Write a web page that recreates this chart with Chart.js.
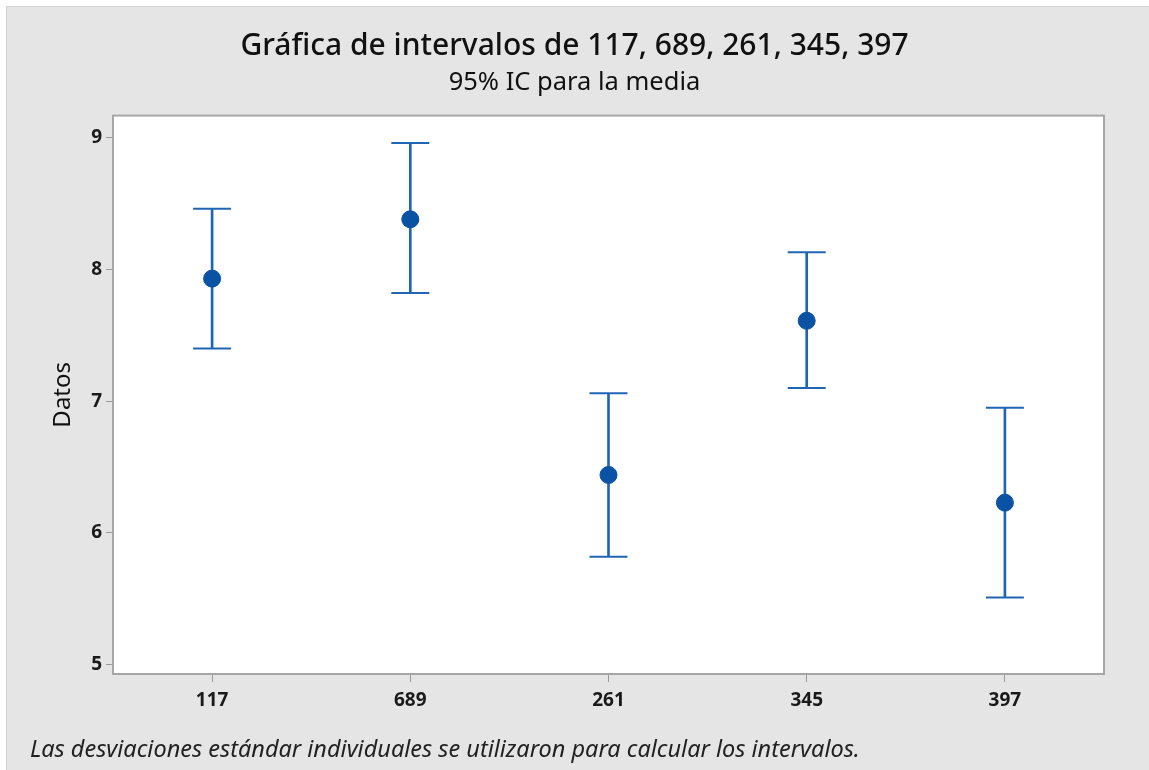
<!DOCTYPE html>
<html>
<head>
<meta charset="utf-8">
<script src="https://cdn.jsdelivr.net/npm/chart.js@4.4.1/dist/chart.umd.min.js"></script>
<style>
    body { margin: 0; background: #ffffff; }
    #panel {
        position: absolute; left: 6px; top: 6px; width: 1143px; height: 764px;
        background: #e5e5e5; border-left: 1px solid #d2d2d2; border-top: 1px solid #d2d2d2;
    }
    #wrap { position: absolute; left: 0; top: 0; width: 1149px; height: 770px; }
    #note {
        position: absolute; left: 30px; top: 737px; line-height: 1;
        font-family: "Noto Sans", sans-serif; font-style: italic; font-size: 23.5px; color: #222;
    }
</style>
</head>
<body>
<div id="panel"></div>
<div id="wrap"><canvas id="canvas" width="1149" height="770"></canvas></div>
<div id="note">Las desviaciones estándar individuales se utilizaron para calcular los intervalos.</div>
<script>
// data
var categories = ["117", "689", "261", "345", "397"];
var means = [7.93, 8.38, 6.44, 7.61, 6.23];
var lowerCI = [7.40, 7.82, 5.82, 7.10, 5.51];
var upperCI = [8.46, 8.96, 7.06, 8.13, 6.95];
var yTicks = [5, 6, 7, 8, 9];

var lineColor = "#2065b4";
var markColor = "#0a52a3";
var fontFamily = "'Noto Sans', sans-serif";
var tickFont = { family: "'Liberation Sans Narrow', 'Noto Sans', sans-serif", size: 19, weight: "bold" };

// white plot area with a grey frame
var framePlugin = {
    id: "frame",
    beforeDraw: function (chart) {
        var a = chart.chartArea, ctx = chart.ctx;
        ctx.save();
        ctx.fillStyle = "#ffffff";
        ctx.fillRect(a.left, a.top, a.right - a.left, a.bottom - a.top);
        ctx.restore();
    },
    beforeDatasetsDraw: function (chart) {
        var a = chart.chartArea, ctx = chart.ctx;
        ctx.save();
        ctx.strokeStyle = "#a6a6a6";
        ctx.lineWidth = 2;
        ctx.strokeRect(a.left, a.top, a.right - a.left, a.bottom - a.top);
        ctx.restore();
    }
};

var ranges = [];
for (var i = 0; i < categories.length; i++) {
    ranges.push([lowerCI[i], upperCI[i]]);
}

var ctx = document.getElementById("canvas").getContext("2d");
var myChart = new Chart(ctx, {
    type: "bar",
    data: {
        labels: categories,
        datasets: [{
            type: "line",
            label: "media",
            data: means,
            showLine: false,
            pointStyle: "circle",
            pointRadius: 8.5,
            pointBackgroundColor: markColor,
            pointBorderColor: markColor,
            pointBorderWidth: 1,
            order: 0
        }, {
            type: "line",
            label: "superior",
            data: upperCI,
            showLine: false,
            pointStyle: "line",
            pointRadius: 19,
            pointBorderColor: lineColor,
            pointBorderWidth: 2,
            order: 1
        }, {
            type: "line",
            label: "inferior",
            data: lowerCI,
            showLine: false,
            pointStyle: "line",
            pointRadius: 19,
            pointBorderColor: lineColor,
            pointBorderWidth: 2,
            order: 1
        }, {
            label: "IC",
            data: ranges,
            backgroundColor: lineColor,
            barThickness: 2,
            order: 2
        }]
    },
    options: {
        responsive: false,
        animation: false,
        layout: { padding: { left: 0, right: 0, top: 0, bottom: 46 } },
        plugins: {
            legend: { display: false },
            tooltip: { enabled: false },
            title: {
                display: true,
                text: "Gráfica de intervalos de 117, 689, 261, 345, 397",
                color: "#111111",
                font: { family: fontFamily, size: 30, weight: "500" },
                padding: { top: 28, bottom: 3 }
            },
            subtitle: {
                display: true,
                text: "95% IC para la media",
                color: "#111111",
                font: { family: fontFamily, size: 25.5, weight: "normal" },
                padding: { top: 0, bottom: 18 }
            }
        },
        scales: {
            x: {
                offset: true,
                grid: { display: true, drawOnChartArea: false, tickLength: 8, color: "#9a9a9a", offset: false },
                border: { display: false },
                ticks: { color: "#1a1a1a", padding: 7, font: tickFont },
                afterFit: function (scale) { scale.height = 50; }
            },
            y: {
                min: 4.93,
                max: 9.167,
                grid: { display: true, drawOnChartArea: false, tickLength: 7, color: "#9a9a9a" },
                border: { display: false },
                afterBuildTicks: function (scale) {
                    scale.ticks = yTicks.map(function (v) { return { value: v }; });
                },
                ticks: { color: "#1a1a1a", padding: 4, font: tickFont },
                title: {
                    display: true,
                    text: "Datos",
                    color: "#111111",
                    font: { family: fontFamily, size: 24 },
                    padding: { top: 49, bottom: 0 }
                },
                afterFit: function (scale) { scale.width = 113; }
            },
            // empty right margin so the titles centre on the whole panel
            y2: {
                position: "right",
                type: "linear",
                grid: { display: false },
                border: { display: false },
                ticks: { display: false },
                afterFit: function (scale) { scale.width = 45; }
            }
        }
    },
    plugins: [framePlugin]
});
</script>
</body>
</html>
